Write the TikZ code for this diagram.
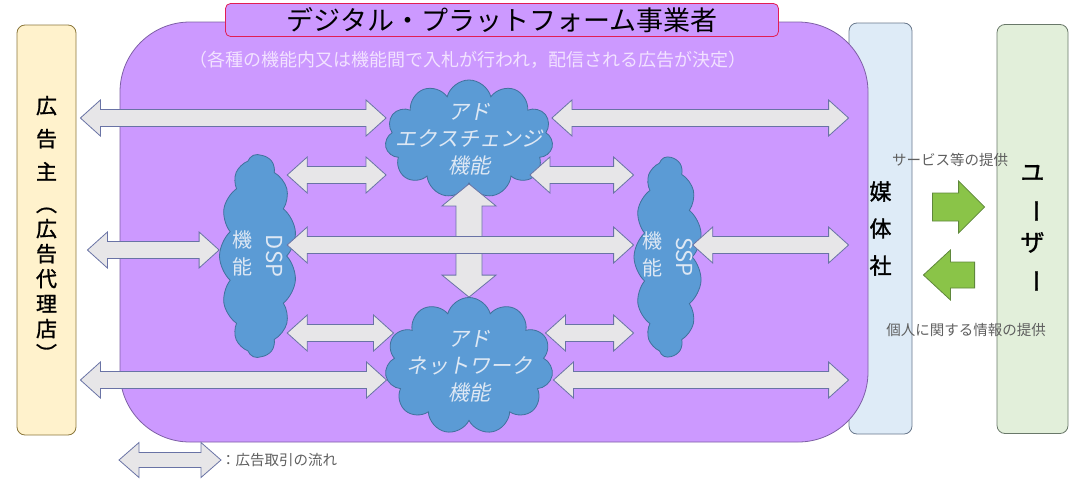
\documentclass[tikz,border=0pt]{standalone}
\usepackage{fontspec}
\setmainfont{Noto Sans CJK JP}
\newfontfamily\heavyjp{Noto Sans CJK JP}[FakeBold=1.3]
\newfontfamily\slantjp{Noto Sans CJK JP}[FakeSlant=0.2]
\usetikzlibrary{shapes.symbols,calc}
\newcommand{\vturn}[1]{\rotatebox[origin=c]{-90}{#1}}
\definecolor{platfill}{RGB}{204,153,255}
\definecolor{platedge}{RGB}{125,95,165}
\definecolor{titleedge}{RGB}{225,30,85}
\definecolor{advfill}{RGB}{255,242,204}
\definecolor{advedge}{RGB}{140,120,60}
\definecolor{mediafill}{RGB}{222,235,247}
\definecolor{mediaedge}{RGB}{105,120,140}
\definecolor{userfill}{RGB}{226,239,218}
\definecolor{useredge}{RGB}{105,120,105}
\definecolor{cloudfill}{RGB}{91,155,213}
\definecolor{cloudedge}{RGB}{65,113,156}
\definecolor{cloudtext}{RGB}{222,232,244}
\definecolor{arrfill}{RGB}{231,230,232}
\definecolor{arredge}{RGB}{105,115,165}
\definecolor{greenfill}{RGB}{138,196,72}
\definecolor{greenedge}{RGB}{95,135,60}
\definecolor{subtext}{RGB}{242,226,255}
\definecolor{notetext}{RGB}{95,95,95}

\begin{document}
  \begin{tikzpicture}
    [
    x=1pt,y=-1pt,
    arrow head/.store in=\aW,
    arrow body/.store in=\aw,
    arrow tip/.store in=\ahl,
    arrow head=18pt,arrow body=8.5pt,arrow tip=20pt,
    box/.style={draw,rounded corners=8pt,line width=0.8pt,inner sep=0pt,align=center},
    puff/.style={cloud,cloud puffs=11,cloud ignores aspect,fill=cloudfill,draw=cloudedge,line width=0.8pt},
    tallpuff/.style={puff,rotate=90,cloud puffs=13,cloud puff arc=95},
    puffword/.style={text=cloudtext,inner sep=0pt,align=center,font=\slantjp\fontsize{21}{27}\selectfont},
    sideword/.style={text=cloudtext,inner sep=0pt,font=\fontsize{20}{27}\selectfont},
    note/.style={text=notetext,inner sep=0pt,font=\fontsize{14.5}{18}\selectfont},
    dbl/.style={draw=arredge,fill=arrfill,line width=0.8pt,
      to path={let \p1=(\tikztostart),\p2=(\tikztotarget) in
        -- ($(\p1)!\ahl!(\p2)!\aW!90:(\p2)$)
        -- ($(\p1)!\ahl!(\p2)!\aw!90:(\p2)$)
        -- ($(\p2)!\ahl!(\p1)!\aw!-90:(\p1)$)
        -- ($(\p2)!\ahl!(\p1)!\aW!-90:(\p1)$)
        -- (\p2)
        -- ($(\p2)!\ahl!(\p1)!\aW!90:(\p1)$)
        -- ($(\p2)!\ahl!(\p1)!\aw!90:(\p1)$)
        -- ($(\p1)!\ahl!(\p2)!\aw!-90:(\p2)$)
        -- ($(\p1)!\ahl!(\p2)!\aW!-90:(\p2)$)
        -- cycle}},
    sgl/.style={draw=greenedge,fill=greenfill,line width=0.8pt,
      to path={let \p1=(\tikztostart),\p2=(\tikztotarget) in
        -- ($(\p1)!\aw!90:(\p2)$)
        -- ($(\p2)!\ahl!(\p1)!\aw!-90:(\p1)$)
        -- ($(\p2)!\ahl!(\p1)!\aW!-90:(\p1)$)
        -- (\p2)
        -- ($(\p2)!\ahl!(\p1)!\aW!90:(\p1)$)
        -- ($(\p2)!\ahl!(\p1)!\aw!90:(\p1)$)
        -- ($(\p1)!\aw!-90:(\p2)$)
        -- cycle}},
    ]
    \useasboundingbox (0,0) rectangle (1075,479);
    \node[box,draw=mediaedge,fill=mediafill,minimum width=63,minimum height=411,font=\heavyjp\fontsize{22}{37}\selectfont] (media) at (880.5,228.5) {媒\\体\\社};
    \node[box,draw=useredge,fill=userfill,minimum width=71,minimum height=409,font=\heavyjp\fontsize{24}{35}\selectfont] (user) at (1032.5,229) {ユ\\\vturn{ー}\\ザ\\\vturn{ー}};
    \node[box,draw=advedge,fill=advfill,minimum width=59,minimum height=410,font=\heavyjp\fontsize{21}{25}\selectfont] (adv) at (46.5,230) {広\\[8pt]告\\[8pt]主\\[7pt]\vturn{（}\\広\\告\\代\\理\\店\\\vturn{）}};
    \node[draw=platedge,fill=platfill,line width=0.8pt,rounded corners=70pt,minimum width=748,minimum height=420] (plat) at (494,232) {};
    \node[draw=titleedge,fill=platfill,rounded corners=5pt,line width=0.8pt,minimum width=553,minimum height=33,font=\fontsize{27}{30}\selectfont] (title) at (502,20) {デジタル・プラットフォーム事業者};
    \node[text=subtext,font=\fontsize{18}{20}\selectfont] (sub) at (468,60) {（各種の機能内又は機能間で入札が行われ，配信される広告が決定）};

    \node[puff,minimum width=168,minimum height=118,label={[puffword]center:{アド\\エクスチェンジ\\機能}}] (exch) at (469,139) {};
    \node[puff,minimum width=168,minimum height=137,label={[puffword]center:{アド\\ネットワーク\\機能}}] (net) at (469,366) {};
    \node[tallpuff,minimum width=203,minimum height=77] (dsp) at (258,256) {};
    \node[tallpuff,minimum width=200,minimum height=68] (ssp) at (668,257) {};
    \node[sideword] (dspname) at (dsp.center) {$\vcenter{\hbox{\begin{tabular}{@{}c@{}}機\\能\end{tabular}}}$\hspace{14pt}$\vcenter{\hbox{\fontsize{22}{26}\selectfont\rotatebox{-90}{DSP}}}$};
    \node[sideword] (sspname) at (ssp.center) {$\vcenter{\hbox{\begin{tabular}{@{}c@{}}機\\能\end{tabular}}}$\hspace{14pt}$\vcenter{\hbox{\fontsize{22}{26}\selectfont\rotatebox{-90}{SSP}}}$};

    \coordinate (r1) at (0,118);
    \coordinate (r2) at (0,175);
    \coordinate (r3) at (0,250);
    \coordinate (r4) at (0,245);
    \coordinate (r5) at (0,333);
    \coordinate (r6) at (0,380);
    \coordinate (g1) at (0,207);
    \coordinate (g2) at (0,275);

    \draw[dbl,arrow head=27pt,arrow body=13pt,arrow tip=22pt] (exch.south) to (net.north);
    \draw[dbl] ($(adv.east |- r1)+(4,0)$) to (exch.west |- r1);
    \draw[dbl] (exch.east |- r1) to (media.west |- r1);
    \draw[dbl] (dsp.south |- r2) to (exch.west |- r2);
    \draw[dbl] ($(exch.east |- r2)+(-22,0)$) to (ssp.north |- r2);
    \draw[dbl] ($(adv.east |- r3)+(11,0)$) to (dsp.north |- r3);
    \draw[dbl] (dsp.south |- r4) to (ssp.north |- r4);
    \draw[dbl] (ssp.south |- r4) to (media.west |- r4);
    \draw[dbl] (dsp.south |- r5) to ($(net.west |- r5)+(7,0)$);
    \draw[dbl] ($(net.east |- r5)+(-6,0)$) to (ssp.north |- r5);
    \draw[dbl] ($(adv.east |- r6)+(4,0)$) to (net.west |- r6);
    \draw[dbl] ($(net.east |- r6)+(2,0)$) to (media.west |- r6);

    \draw[sgl,arrow body=14pt,arrow head=26pt,arrow tip=26pt] ($(media.east |- g1)+(20,0)$) to ($(user.west |- g1)+(-12,0)$);
    \draw[sgl,arrow body=13pt,arrow head=25pt,arrow tip=27pt] ($(user.west |- g2)+(-22,0)$) to ($(media.east |- g2)+(11,0)$);

    \node[note] (svc) at (950,160) {サービス等の提供};
    \node[note] (info) at (966,330) {個人に関する情報の提供};
    \node[note,anchor=west] (leg) at (221,460) {：広告取引の流れ};
    \draw[dbl,arrow body=7.5pt,arrow head=17.5pt] ($(leg.west)+(-102,0)$) to (leg.west);
  \end{tikzpicture}
\end{document}
